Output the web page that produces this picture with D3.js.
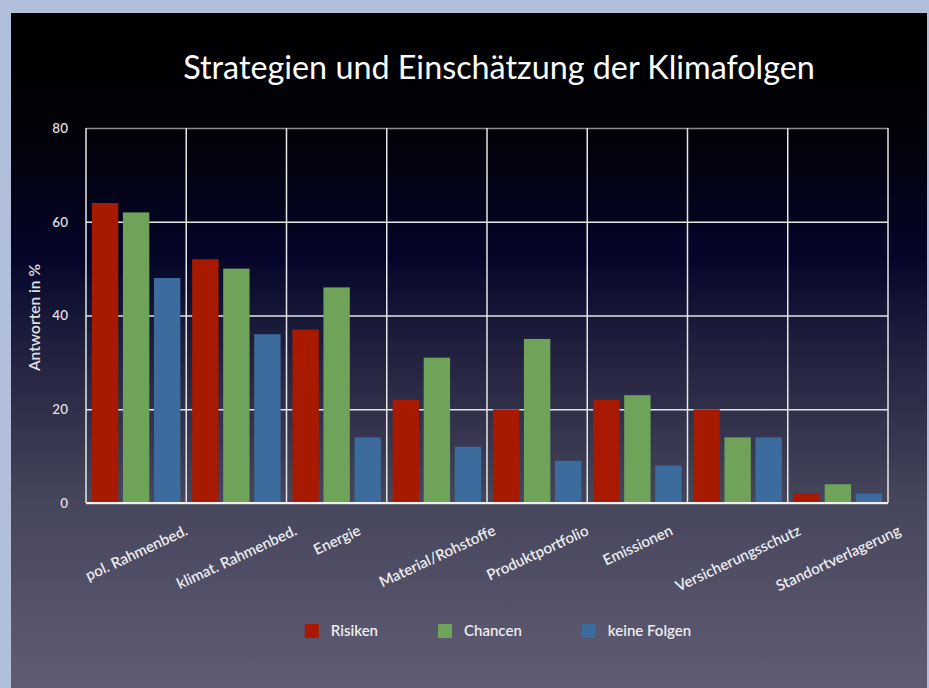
<!DOCTYPE html>
<html>
<head>
<meta charset="utf-8">
<script src="https://cdn.jsdelivr.net/npm/d3@7/dist/d3.min.js"></script>
<style>
body { margin: 0; background: #b1bfda; }
svg { display: block; }
</style>
</head>
<body>
<div id="chart-area"></div>
<script>
var categories = ["pol. Rahmenbed.", "klimat. Rahmenbed.", "Energie", "Material/Rohstoffe",
	"Produktportfolio", "Emissionen", "Versicherungsschutz", "Standortverlagerung"];
var seriesNames = ["Risiken", "Chancen", "keine Folgen"];
var risiken = [64, 52, 37, 22, 20, 22, 20, 2];
var chancen = [62, 50, 46, 31, 35, 23, 14, 4];
var keineFolgen = [48, 36, 14, 12, 9, 8, 14, 2];
var yTicks = [0, 20, 40, 60, 80];
var seriesColors = ["#a81a00", "#6fa35a", "#3c6c9e"];

var W = 929, H = 688;
var margin = {top: 128, right: 41, bottom: 185, left: 86};
var width = W - margin.left - margin.right;   // 802
var height = H - margin.top - margin.bottom;  // 375
var font = "Lato, 'Open Sans', sans-serif";

var svg = d3.select("#chart-area").append("svg")
	.attr("width", W)
	.attr("height", H);

// dark panel with vertical gradient
var grad = svg.append("defs").append("linearGradient")
	.attr("id", "bg").attr("x1", 0).attr("y1", 0).attr("x2", 0).attr("y2", 1);
[[0, "#000000"], [0.17, "#020208"], [0.36, "#050529"], [0.53, "#262643"],
 [0.72, "#45455b"], [1, "#615c74"]].forEach(function(s) {
	grad.append("stop").attr("offset", s[0]).attr("stop-color", s[1]);
});
svg.append("rect")
	.attr("x", 11).attr("y", 13)
	.attr("width", 916).attr("height", H - 13)
	.attr("fill", "url(#bg)");

svg.append("text")
	.attr("class", "title")
	.attr("x", 499)
	.attr("y", 79)
	.attr("text-anchor", "middle")
	.attr("fill", "#ffffff")
	.attr("font-family", font)
	.attr("font-weight", 400)
	.attr("font-size", "30px")
	.text("Strategien und Einschätzung der Klimafolgen");
// fit title to its width in the picture
var titleNode = svg.select(".title").node();
var tw = titleNode.getComputedTextLength();
svg.select(".title").attr("font-size", (30 * 632 / tw) + "px");

var group = svg.append("g")
	.attr("transform", "translate(" + margin.left + "," + margin.top + ")");

var x = d3.scaleBand()
	.domain(categories)
	.range([0, width]);

var xInner = d3.scaleBand()
	.domain(seriesNames)
	.range([0, x.bandwidth()])
	.paddingInner(0.15)
	.paddingOuter(0.19);

var y = d3.scaleLinear()
	.domain([0, 80])
	.range([height, 0]);

var colors = d3.scaleOrdinal()
	.domain(seriesNames)
	.range(seriesColors);

// horizontal grid + tick labels
var leftAxis = d3.axisLeft(y)
	.tickValues(yTicks)
	.tickSize(-width)
	.tickPadding(18)
	.tickFormat(function(d) { return d; });
var yAxisG = group.append("g")
	.attr("class", "left axis")
	.call(leftAxis);
yAxisG.select(".domain").remove();
yAxisG.selectAll("line")
	.attr("stroke", function(d) { return d == 80 ? "#8a8a8a" : "#e6e6e6"; })
	.attr("stroke-width", 1.5);
yAxisG.selectAll("text")
	.attr("fill", "#dedede")
	.attr("font-family", font)
	.attr("font-weight", 600)
	.attr("font-size", "13.5px");

// vertical category separators
var seps = categories.map(function(c) { return x(c); }).concat([width]);
group.selectAll(".sep").data(seps)
	.enter().append("line")
	.attr("class", "sep")
	.attr("x1", function(d) { return d; })
	.attr("x2", function(d) { return d; })
	.attr("y1", 0)
	.attr("y2", height)
	.attr("stroke", "#e6e6e6")
	.attr("stroke-width", 1.5);

// bars
var rows = categories.map(function(c, i) {
	return {name: c, values: [risiken[i], chancen[i], keineFolgen[i]]};
});
var catG = group.selectAll(".cat").data(rows)
	.enter().append("g")
	.attr("class", "cat")
	.attr("transform", function(d) { return "translate(" + x(d.name) + ",0)"; });
catG.selectAll("rect")
	.data(function(d) { return d.values.map(function(v, j) { return {s: seriesNames[j], v: v}; }); })
	.enter().append("rect")
	.attr("x", function(d) { return xInner(d.s); })
	.attr("y", function(d) { return y(d.v); })
	.attr("width", xInner.bandwidth())
	.attr("height", function(d) { return height - y(d.v); })
	.attr("fill", function(d) { return colors(d.s); });

// baseline
group.append("line")
	.attr("x1", 0).attr("x2", width)
	.attr("y1", height).attr("y2", height)
	.attr("stroke", "#f0f0f0")
	.attr("stroke-width", 2);

// rotated category labels, bbox top aligned under the axis
var ang = 25 * Math.PI / 180;
var labels = group.selectAll(".xlab").data(categories)
	.enter().append("text")
	.attr("class", "xlab")
	.attr("text-anchor", "middle")
	.attr("dominant-baseline", "central")
	.attr("fill", "#ececf0")
	.attr("font-family", font)
	.attr("font-weight", 600)
	.attr("font-size", "15px")
	.text(function(d) { return d; });
labels.attr("transform", function(d) {
	var L = this.getComputedTextLength();
	var h = 15;
	var half = (L * Math.sin(ang) + h * Math.cos(ang)) / 2;
	return "translate(" + (x(d) + x.bandwidth() / 2) + "," + (height + 19 + half) + ") rotate(-25)";
});

// y axis label
group.append("text")
	.attr("class", "y axis-label")
	.attr("x", -(height / 2) - 2)
	.attr("y", -52)
	.attr("text-anchor", "middle")
	.attr("dominant-baseline", "central")
	.attr("transform", "rotate(-90)")
	.attr("fill", "#e0e0e4")
	.attr("font-family", font)
	.attr("font-weight", 600)
	.attr("font-size", "15.5px")
	.text("Antworten in %");

// legend
var legend = svg.append("g").attr("class", "legend");
var items = legend.selectAll("g").data(seriesNames)
	.enter().append("g");
items.append("rect")
	.attr("width", 14).attr("height", 14)
	.attr("y", 624)
	.attr("fill", function(d) { return colors(d); });
items.append("text")
	.attr("x", 26)
	.attr("y", 636)
	.attr("fill", "#ececf0")
	.attr("font-family", font)
	.attr("font-weight", 600)
	.attr("font-size", "15px")
	.text(function(d) { return d; });
var lx = 0;
items.each(function() {
	d3.select(this).attr("transform", "translate(" + lx + ",0)");
	lx += 26 + d3.select(this).select("text").node().getComputedTextLength() + 60;
});
var legendW = lx - 60;
legend.attr("transform", "translate(" + (498 - legendW / 2) + ",0)");
</script>
</body>
</html>
